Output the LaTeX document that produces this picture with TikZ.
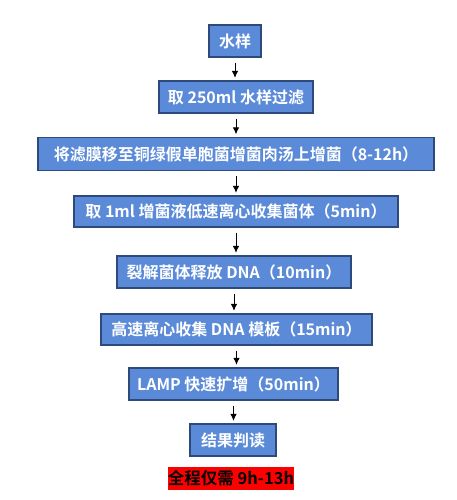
\documentclass[tikz,border=0pt]{standalone}
\usepackage{fontspec}
\setmainfont{Noto Sans CJK SC}[BoldFont={Noto Sans CJK SC Bold}]
\usetikzlibrary{arrows.meta}
\definecolor{boxfill}{HTML}{5B8BD8}
\definecolor{boxline}{HTML}{2E4A7A}
\begin{document}
\begin{tikzpicture}[x=1pt,y=-1pt,
  stepbox/.style={draw=boxline,line width=1.2pt,fill=boxfill,text=white,
    font=\fontsize{16}{19}\selectfont\bfseries,inner sep=0pt,anchor=center},
  redbox/.style={fill=red,text=black,font=\fontsize{16.5}{19}\selectfont\bfseries,inner sep=0pt},
  arr/.style={-{Latex[length=7pt,width=6.5pt]},line width=1pt,black,shorten <=5pt,shorten >=2.5pt}]
\useasboundingbox[fill=white] (0,0) rectangle (457,500);
\node[stepbox,minimum width=52pt,minimum height=32pt] (n1) at (235,41) {水样};
\node[stepbox,minimum width=154pt,minimum height=32pt] (n2) at (236,97) {取 250ml 水样过滤};
\node[stepbox,minimum width=396pt,minimum height=33pt] (n3) at (236,154) {将滤膜移至铜绿假单胞菌增菌肉汤上增菌（8-12h）};
\node[stepbox,minimum width=324pt,minimum height=31pt] (n4) at (236,211.5) {取 1ml 增菌液低速离心收集菌体（5min）};
\node[stepbox,minimum width=234pt,minimum height=32pt] (n5) at (234,272) {裂解菌体释放 DNA（10min）};
\node[stepbox,minimum width=271pt,minimum height=31pt] (n6) at (236.5,329.5) {高速离心收集 DNA 模板（15min）};
\node[stepbox,minimum width=209pt,minimum height=32pt] (n7) at (233.5,384) {LAMP 快速扩增（50min）};
\node[stepbox,minimum width=86pt,minimum height=32pt] (n8) at (233,440) {结果判读};
\node[redbox,minimum width=126pt,minimum height=23pt] (n9) at (231,478.5) {全程仅需 9h-13h};
\draw[arr] (n1.south) -- (n1.south |- n2.north);
\draw[arr] (n2.south) -- (n2.south |- n3.north);
\draw[arr] (n3.south) -- (n3.south |- n4.north);
\draw[arr] (n4.south) -- (n4.south |- n5.north);
\draw[arr] (n5.south) -- (n5.south |- n6.north);
\draw[arr] (n6.south) -- (n6.south |- n7.north);
\draw[arr] (n7.south) -- (n7.south |- n8.north);
\end{tikzpicture}
\end{document}
